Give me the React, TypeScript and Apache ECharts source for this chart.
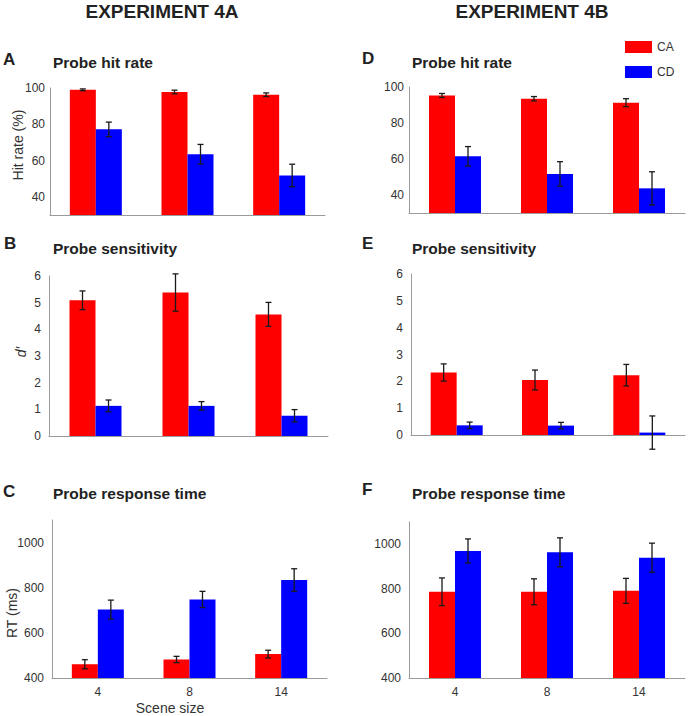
import React, { useEffect, useRef } from "react";
import * as echarts from "echarts";

const categories = ["4", "8", "14"];

// Experiment 4A
const hitCA_A = [99, 97.8, 96.3];
const hitCA_A_err = [0.5, 1, 1];
const hitCD_A = [77.2, 63.5, 51.8];
const hitCD_A_err = [4, 5.4, 6.2];
const dCA_A = [5.09, 5.38, 4.56];
const dCA_A_err = [0.35, 0.7, 0.45];
const dCD_A = [1.13, 1.13, 0.76];
const dCD_A_err = [0.22, 0.16, 0.23];
const rtCA_A = [461, 482, 506];
const rtCA_A_err = [20, 14, 17];
const rtCD_A = [703, 748, 834];
const rtCD_A_err = [42, 36, 50];

// Experiment 4B
const hitCA_B = [95.3, 93.5, 91.3];
const hitCA_B_err = [1.1, 1.2, 2.2];
const hitCD_B = [61.5, 51.7, 43.7];
const hitCD_B_err = [5.4, 6.8, 9.2];
const dCA_B = [2.33, 2.05, 2.23];
const dCA_B_err = [0.32, 0.37, 0.4];
const dCD_B = [0.36, 0.35, 0.09];
const dCD_B_err = [0.12, 0.12, 0.62];
const rtCA_B = [787, 787, 791];
const rtCA_B_err = [62, 58, 56];
const rtCD_B = [970, 964, 940];
const rtCD_B_err = [54, 65, 65];

const FONT = "Liberation Sans, Arial, Helvetica, sans-serif";
const RED = "#ff0000";
const BLUE = "#0000ff";
const BAR_W = 26;

function errData(vals: number[], errs: number[]) {
  return vals.map((v, i) => [i, v - errs[i], v + errs[i]]);
}

function errRender(offset: number) {
  return (params: any, api: any) => {
    const i = api.value(0);
    const lo = api.coord([i, api.value(1)]);
    const hi = api.coord([i, api.value(2)]);
    const x = lo[0] + offset;
    const style = { stroke: "#1a1a1a", lineWidth: 1.3 };
    return {
      type: "group",
      children: [
        { type: "line", shape: { x1: x, y1: lo[1], x2: x, y2: hi[1] }, style },
        { type: "line", shape: { x1: x - 3, y1: lo[1], x2: x + 3, y2: lo[1] }, style },
        { type: "line", shape: { x1: x - 3, y1: hi[1], x2: x + 3, y2: hi[1] }, style },
      ],
    };
  };
}

export default function App() {
  const ref = useRef<HTMLDivElement>(null);

  useEffect(() => {
    document.body.style.margin = "0";
    const chart = echarts.init(ref.current!, undefined, { renderer: "svg" });

    const grids = [
      { left: 50, top: 88, width: 275, height: 127 }, // A
      { left: 49, top: 276, width: 279, height: 160 }, // B
      { left: 52, top: 520, width: 275, height: 158 }, // C
      { left: 409, top: 87, width: 276, height: 126 }, // D
      { left: 411, top: 274, width: 274, height: 161 }, // E
      { left: 409, top: 522, width: 276, height: 156 }, // F
    ];

    const axisLine = { show: true, lineStyle: { color: "#9a9a9a", width: 1 } };
    const labelStyle = { color: "#333", fontSize: 12, fontFamily: FONT };

    const xAxes = grids.map((_, gi) => ({
      type: "category",
      gridIndex: gi,
      data: categories,
      axisLine,
      axisTick: { show: false },
      axisLabel: { ...labelStyle, show: gi === 2 || gi === 5, margin: 8 },
      splitLine: { show: false },
    }));

    const hitAxis = {
      type: "value",
      min: 30,
      max: 100,
      interval: 10,
      axisLabel: {
        ...labelStyle,
        margin: 5,
        formatter: (v: number) => (v >= 40 && v % 20 === 0 ? String(v) : ""),
      },
    };
    const dAxis = {
      type: "value",
      min: 0,
      max: 6,
      interval: 1,
      axisLabel: { ...labelStyle, margin: 8 },
    };
    const rtAxis = {
      type: "value",
      min: 400,
      max: 1100,
      interval: 100,
      axisLabel: {
        ...labelStyle,
        margin: 8,
        formatter: (v: number) => (v % 200 === 0 && v <= 1000 ? String(v) : ""),
      },
    };
    const yTemplates = [hitAxis, dAxis, rtAxis, hitAxis, dAxis, rtAxis];
    const yAxes = yTemplates.map((t, gi) => ({
      ...t,
      gridIndex: gi,
      axisLine,
      axisTick: { show: false },
      splitLine: { show: false },
    }));

    const panels = [
      [hitCA_A, hitCA_A_err, hitCD_A, hitCD_A_err],
      [dCA_A, dCA_A_err, dCD_A, dCD_A_err],
      [rtCA_A, rtCA_A_err, rtCD_A, rtCD_A_err],
      [hitCA_B, hitCA_B_err, hitCD_B, hitCD_B_err],
      [dCA_B, dCA_B_err, dCD_B, dCD_B_err],
      [rtCA_B, rtCA_B_err, rtCD_B, rtCD_B_err],
    ];

    const series: any[] = [];
    panels.forEach((p, gi) => {
      const [ca, caErr, cd, cdErr] = p;
      series.push({
        name: "CA",
        type: "bar",
        xAxisIndex: gi,
        yAxisIndex: gi,
        data: ca,
        barWidth: BAR_W,
        barGap: "0%",
        itemStyle: { color: RED },
      });
      series.push({
        name: "CD",
        type: "bar",
        xAxisIndex: gi,
        yAxisIndex: gi,
        data: cd,
        barWidth: BAR_W,
        barGap: "0%",
        itemStyle: { color: BLUE },
      });
      series.push({
        type: "custom",
        xAxisIndex: gi,
        yAxisIndex: gi,
        data: errData(ca, caErr),
        renderItem: errRender(-BAR_W / 2),
        encode: { x: 0, y: [1, 2] },
        clip: false,
        z: 5,
      });
      series.push({
        type: "custom",
        xAxisIndex: gi,
        yAxisIndex: gi,
        data: errData(cd, cdErr),
        renderItem: errRender(BAR_W / 2),
        encode: { x: 0, y: [1, 2] },
        clip: false,
        z: 5,
      });
    });

    const txt = (
      text: string,
      x: number,
      y: number,
      size: number,
      bold: boolean,
      align: string = "left",
      extra: any = {}
    ) => ({
      type: "text",
      x,
      y,
      ...extra,
      style: {
        text,
        fill: bold ? "#222" : "#333",
        font: `${extra.italic ? "italic " : ""}${bold ? "bold " : ""}${size}px ${FONT}`,
        textAlign: align,
        textVerticalAlign: "middle",
      },
    });

    const graphics: any[] = [
      txt("EXPERIMENT 4A", 162, 11, 19, true, "center"),
      txt("EXPERIMENT 4B", 532, 11, 19, true, "center"),
      txt("A", 3, 59, 17, true),
      txt("B", 4, 243, 17, true),
      txt("C", 3, 491, 17, true),
      txt("D", 362, 58, 17, true),
      txt("E", 362, 243, 17, true),
      txt("F", 362, 489, 17, true),
      txt("Probe hit rate", 53, 62, 15.5, true),
      txt("Probe sensitivity", 53, 248, 15.5, true),
      txt("Probe response time", 53, 493, 15.5, true),
      txt("Probe hit rate", 412, 62, 15.5, true),
      txt("Probe sensitivity", 412, 248, 15.5, true),
      txt("Probe response time", 412, 493, 15.5, true),
      txt("Hit rate (%)", 18, 145, 14, false, "center", { rotation: Math.PI / 2 }),
      txt("d\u2032", 21, 352, 14, false, "center", { rotation: Math.PI / 2, italic: true }),
      txt("RT (ms)", 12, 613, 14, false, "center", { rotation: Math.PI / 2 }),
      txt("Scene size", 170, 708, 14, false, "center"),
    ];

    chart.setOption({
      animation: false,
      backgroundColor: "#ffffff",
      grid: grids.map((g) => ({ ...g, containLabel: false })),
      xAxis: xAxes,
      yAxis: yAxes,
      legend: {
        data: ["CA", "CD"],
        orient: "vertical",
        left: 620,
        top: 36,
        itemWidth: 27,
        itemHeight: 12,
        itemGap: 13,
        icon: "rect",
        selectedMode: false,
        textStyle: { color: "#333", fontSize: 12, fontFamily: FONT, padding: [0, 0, 0, 0] },
      },
      series,
      graphic: graphics,
    });

    return () => chart.dispose();
  }, []);

  return <div ref={ref} style={{ width: 689, height: 716 }} />;
}
